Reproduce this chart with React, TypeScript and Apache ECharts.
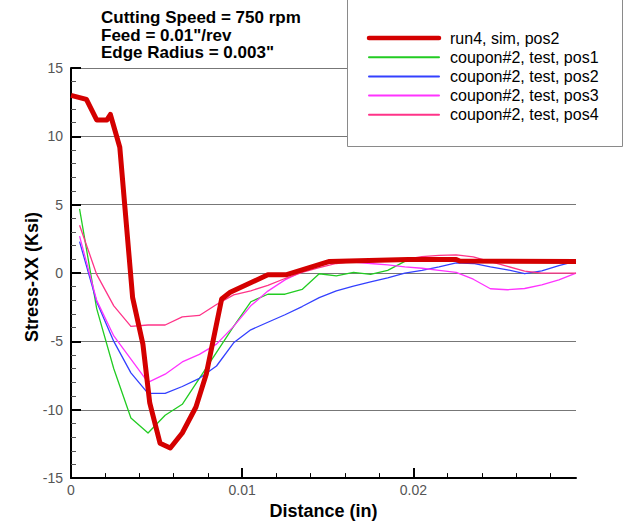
import React, { useEffect, useRef } from "react";
import * as echarts from "echarts";

const seriesNames = [
  "run4, sim, pos2",
  "coupon#2, test, pos1",
  "coupon#2, test, pos2",
  "coupon#2, test, pos3",
  "coupon#2, test, pos4",
];
const seriesColors = ["#d40000", "#22cc22", "#3340ff", "#ff33ff", "#ff3388"];
const seriesWidths = [5, 1.3, 1.3, 1.3, 1.3];
const titleLines = ["Cutting Speed = 750 rpm", "Feed = 0.01\"/rev", "Edge Radius = 0.003\""];
const xTitle = "Distance (in)";
const yTitle = "Stress-XX (Ksi)";

const simX = [0, 0.0009, 0.0015, 0.0021, 0.0023, 0.00285, 0.0036, 0.0042, 0.0046, 0.0052, 0.0058, 0.0065, 0.0073, 0.0079, 0.0088, 0.0093, 0.0115, 0.0126, 0.0151, 0.0197, 0.0225, 0.0227, 0.0295];
const simY = [13.0, 12.7, 11.2, 11.2, 11.6, 9.2, -1.8, -5.2, -9.5, -12.45, -12.8, -11.7, -9.8, -7.4, -1.9, -1.4, -0.12, -0.12, 0.85, 1.0, 1.0, 0.88, 0.85];

const testX = [0.0005, 0.0015, 0.0025, 0.0035, 0.0045, 0.0055, 0.0065, 0.0075, 0.0085, 0.0095, 0.0105, 0.0115, 0.0125, 0.0135, 0.0145, 0.0155, 0.0165, 0.0175, 0.0185, 0.0195, 0.0205, 0.0215, 0.0225, 0.0235, 0.0245, 0.0255, 0.0265, 0.0275, 0.0285, 0.0295];
const pos1Y = [4.7, -2.6, -7.0, -10.6, -11.7, -10.4, -9.6, -7.7, -5.8, -3.9, -2.1, -1.55, -1.55, -1.2, -0.05, -0.2, 0.05, -0.1, 0.2, 0.85, 0.95, 0.95, 0.95, 0.9, 0.9, 0.88, 0.87, 0.86, 0.85, 0.85];
const pos2Y = [2.3, -2.1, -5.0, -7.3, -8.8, -8.8, -8.3, -7.7, -6.8, -5.1, -4.15, -3.6, -3.05, -2.45, -1.8, -1.3, -0.95, -0.65, -0.35, 0.0, 0.2, 0.45, 0.75, 0.7, 0.45, 0.24, -0.05, 0.16, 0.54, 0.88];
const pos3Y = [2.7, -2.0, -4.6, -6.3, -8.0, -7.4, -6.5, -5.95, -5.2, -3.9, -2.4, -1.32, -0.5, 0.1, 0.55, 0.85, 0.8, 0.7, 0.6, 0.45, 0.35, 0.2, 0.05, -0.45, -1.15, -1.22, -1.13, -0.87, -0.5, 0.0];
const pos4Y = [3.5, -0.1, -2.4, -3.9, -3.8, -3.8, -3.2, -3.1, -2.3, -1.6, -1.3, -0.9, -0.4, 0.05, 0.4, 0.7, 0.85, 0.9, 0.95, 1.0, 1.2, 1.3, 1.33, 1.19, 0.84, 0.49, 0.14, 0.0, 0.0, 0.0];

const xMajorTicks = [0.01, 0.02];
const xLabelValues = [0, 0.01, 0.02];
const xMinorTicks = [0.002, 0.004, 0.006, 0.008, 0.012, 0.014, 0.016, 0.018, 0.022, 0.024, 0.026, 0.028];
const xMin = 0;
const xMax = 0.0295;
const yMin = -15;
const yMax = 15;
const yInterval = 5;

const FONT = "'Liberation Sans', Arial, Helvetica, sans-serif";

export default function App() {
  const ref = useRef<HTMLDivElement>(null);
  useEffect(() => {
    if (!ref.current) return;
    const chart = echarts.init(ref.current, undefined, { renderer: "svg" });
    const zip = (xs: number[], ys: number[]) => xs.map((x, i) => [x, ys[i]]);
    const dataSets = [
      zip(simX, simY),
      zip(testX, pos1Y),
      zip(testX, pos2Y),
      zip(testX, pos3Y),
      zip(testX, pos4Y),
    ];
    const drawOrder = [1, 2, 3, 4, 0];
    const series = drawOrder.map((k) => ({
      name: seriesNames[k],
      type: "line",
      data: dataSets[k],
      showSymbol: false,
      symbol: "none",
      xAxisIndex: 0,
      yAxisIndex: 0,
      z: k === 0 ? 5 : 3,
      lineStyle: { color: seriesColors[k], width: seriesWidths[k], join: "round" },
      itemStyle: { color: seriesColors[k] },
    }));

    const legendX0 = 369;
    const legendX1 = 439;
    const legendTextX = 450;
    const legendY0 = 38;
    const legendDy = 19.2;
    const legendGraphics: any[] = [
      {
        type: "rect",
        shape: { x: 347.5, y: -1, width: 275, height: 147.5 },
        style: { fill: "#ffffff", stroke: "#8a8a8a", lineWidth: 1 },
        z: 10,
      },
    ];
    seriesNames.forEach((nm, i) => {
      const y = legendY0 + i * legendDy;
      legendGraphics.push({
        type: "line",
        shape: { x1: legendX0, y1: y, x2: legendX1, y2: y },
        style: { stroke: seriesColors[i], lineWidth: i === 0 ? 4.5 : 2, lineCap: "round" },
        z: 11,
      });
      legendGraphics.push({
        type: "text",
        x: legendTextX,
        y: y,
        style: {
          text: nm,
          fill: "#000",
          font: `16px ${FONT}`,
          textAlign: "left",
          textVerticalAlign: "middle",
        },
        z: 11,
      });
    });
    const titleGraphics: any[] = titleLines.map((t, i) => ({
      type: "text",
      x: 101,
      y: 17.5 + i * 17.5,
      style: {
        text: t,
        fill: "#000",
        font: `bold 17px ${FONT}`,
        textAlign: "left",
        textVerticalAlign: "middle",
      },
      z: 11,
    }));
    titleGraphics.push({
      type: "text",
      x: 32,
      y: 277,
      rotation: Math.PI / 2,
      style: {
        text: yTitle,
        fill: "#000",
        font: `bold 18px ${FONT}`,
        textAlign: "center",
        textVerticalAlign: "middle",
      },
      z: 11,
    });

    chart.setOption({
      animation: false,
      backgroundColor: "#ffffff",
      grid: { left: 71, right: 49, top: 68, bottom: 43, containLabel: false },
      xAxis: [
        {
          type: "value",
          min: xMin,
          max: xMax,
          position: "bottom",
          name: xTitle,
          nameLocation: "middle",
          nameGap: 18,
          nameTextStyle: { fontFamily: FONT, fontWeight: "bold", fontSize: 18, color: "#000" },
          axisLine: { show: true, onZero: false, lineStyle: { color: "#000", width: 2 } },
          axisTick: {
            show: true,
            inside: true,
            length: 10,
            customValues: xMajorTicks,
            lineStyle: { color: "#000", width: 2 },
          },
          axisLabel: {
            show: true,
            customValues: xLabelValues,
            formatter: (v: number) => String(v),
            color: "#555",
            fontFamily: FONT,
            fontSize: 14,
            margin: 5,
          },
          splitLine: { show: false },
        },
        {
          type: "value",
          min: xMin,
          max: xMax,
          position: "bottom",
          axisLine: { show: false, onZero: false },
          axisTick: {
            show: true,
            inside: true,
            length: 5,
            customValues: xMinorTicks,
            lineStyle: { color: "#000", width: 1 },
          },
          axisLabel: { show: false },
          splitLine: { show: false },
        },
      ],
      yAxis: {
        type: "value",
        min: yMin,
        max: yMax,
        interval: yInterval,
        axisLine: { show: true, onZero: false, lineStyle: { color: "#000", width: 2 } },
        axisTick: { show: true, inside: true, length: 10, lineStyle: { color: "#000", width: 2 } },
        minorTick: { show: true, splitNumber: 5, length: 5, lineStyle: { color: "#555", width: 1 } },
        axisLabel: { color: "#555", fontFamily: FONT, fontSize: 14, margin: 8 },
        splitLine: { show: true, lineStyle: { color: "#777", width: 1 } },
      },
      graphic: [...legendGraphics, ...titleGraphics],
      series,
    });
    return () => chart.dispose();
  }, []);
  return (
    <div
      ref={ref}
      style={{ position: "absolute", left: 0, top: 0, width: 625, height: 525 }}
    />
  );
}
